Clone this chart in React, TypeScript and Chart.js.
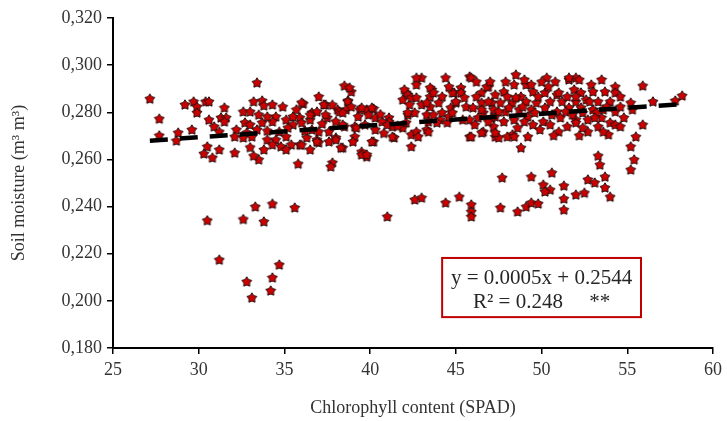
import React, { useEffect, useRef } from "react";
import { Chart, registerables } from "chart.js";

Chart.register(...registerables);

// [SPAD, soil moisture] pairs, grouped by region
const pointsLeft: [number, number][] = [
  [27.15, 0.2856], [27.7, 0.2771], [27.7, 0.270], [28.8, 0.2712], [28.7, 0.2678], [29.6, 0.2725],
  [29.2, 0.2831], [29.7, 0.2844], [29.9, 0.2822], [29.9, 0.2797], [30.4, 0.2844], [30.6, 0.2844],
  [30.6, 0.2767], [30.9, 0.2738], [31.2, 0.2716], [31.5, 0.2818], [31.3, 0.2776], [31.6, 0.2776],
  [31.5, 0.2759], [30.5, 0.2653], [30.3, 0.2623], [30.8, 0.2606], [31.2, 0.264],
];

const pointsLowLeft: [number, number][] = [
  [30.5, 0.234], [32.6, 0.2345], [33.3, 0.2398], [34.3, 0.241], [35.6, 0.2394], [33.8, 0.2335],
  [31.2, 0.2173], [34.7, 0.2152], [34.3, 0.2097], [32.8, 0.208], [34.2, 0.2042], [33.1, 0.2012],
];

const pointsMidLeft: [number, number][] = [
  [32.1, 0.2627], [33.5, 0.2598], [33.2, 0.2614], [33.4, 0.2924], [35.8, 0.258], [38.5, 0.2911],
  [37.0, 0.2865], [37.4, 0.2831], [38.1, 0.281], [38.7, 0.2848], [33.2, 0.2844], [33.7, 0.2848],
  [33.8, 0.2827], [34.3, 0.2831], [34.9, 0.2822], [32.6, 0.2801], [33.0, 0.2801], [33.5, 0.2788],
  [34.5, 0.278], [35.7, 0.281], [36.1, 0.2835], [35.9, 0.2776], [36.6, 0.2797], [36.9, 0.2801],
  [37.5, 0.2776], [38.2, 0.2801], [32.7, 0.2755], [33.0, 0.2746], [33.7, 0.2755], [34.3, 0.2759],
  [35.1, 0.2767], [35.5, 0.2746], [36.0, 0.2755], [36.5, 0.2767], [32.2, 0.2725], [32.8, 0.2712],
  [33.4, 0.2725], [34.7, 0.2716], [35.2, 0.2733], [37.0, 0.2716], [37.6, 0.2716], [38.5, 0.2738],
  [32.1, 0.2695], [32.6, 0.2691], [33.1, 0.2695], [34.0, 0.2682], [34.5, 0.2682], [35.1, 0.2695],
  [36.3, 0.2691], [36.9, 0.2682], [38.0, 0.2691], [34.3, 0.2661], [34.8, 0.2653], [35.4, 0.2661],
  [35.9, 0.2661], [37.0, 0.267], [37.6, 0.2674], [38.4, 0.2648], [33.8, 0.264], [35.1, 0.264],
  [36.5, 0.264], [37.8, 0.2585], [38.9, 0.2886], [36.0, 0.284], [37.3, 0.2831], [38.7, 0.2844],
  [38.6, 0.281], [36.5, 0.2788], [37.4, 0.2788], [38.4, 0.2797], [38.4, 0.2746], [38.0, 0.2682],
  [38.3, 0.2648], [37.7, 0.2568], [36.6, 0.2725], [36.9, 0.2674], [34.0, 0.278], [36.2, 0.272],
  [35.5, 0.278], [37.2, 0.275], [33.0, 0.265], [34.0, 0.272], [36.0, 0.266], [38.0, 0.276],
  [37.8, 0.283],
];

const pointsMid: [number, number][] = [
  [39.4, 0.281], [39.8, 0.281], [40.2, 0.2814], [39.3, 0.278], [40.3, 0.2776], [41.1, 0.2776],
  [42.1, 0.2882], [41.9, 0.2852], [42.7, 0.2916], [43.0, 0.2945], [42.7, 0.2945], [43.6, 0.2895],
  [43.5, 0.2865], [44.4, 0.2945], [42.3, 0.2831], [43.0, 0.2831], [42.2, 0.2788], [42.6, 0.2797],
  [43.5, 0.2822], [43.3, 0.2788], [43.7, 0.2788], [43.4, 0.2759], [42.4, 0.2704], [42.4, 0.2653],
  [43.3, 0.2725], [41.4, 0.2691], [41.1, 0.2759], [40.3, 0.2725], [40.2, 0.2674], [39.5, 0.2631],
  [39.8, 0.261], [39.1, 0.2738], [44.9, 0.2882], [44.1, 0.2767], [44.5, 0.2755], [42.0, 0.2895],
  [42.2, 0.2873], [42.4, 0.2861], [43.5, 0.2903], [43.7, 0.2882], [42.7, 0.2861], [43.3, 0.2839],
  [44.8, 0.2882], [38.8, 0.2903], [38.9, 0.2822], [39.5, 0.2818], [40.1, 0.2818], [39.9, 0.2788],
  [39.2, 0.2733], [39.1, 0.2695], [39.0, 0.2674], [39.7, 0.2746], [40.7, 0.2759], [41.3, 0.2738],
  [41.0, 0.2746], [41.3, 0.2695], [40.1, 0.2674], [42.2, 0.2797], [41.9, 0.2733], [42.1, 0.2755],
  [42.7, 0.2716], [42.8, 0.2695], [43.4, 0.2716], [43.9, 0.2755], [44.7, 0.2818], [44.6, 0.278],
  [39.5, 0.2619], [39.8, 0.2619], [40.6, 0.279], [41.6, 0.274], [40.8, 0.271],
];

const pointsMidRight: [number, number][] = [
  [45.3, 0.2903], [45.0, 0.2839], [45.6, 0.2822], [44.8, 0.2797], [45.8, 0.2767], [46.5, 0.2882],
  [46.9, 0.2907], [46.5, 0.2839], [47.1, 0.2839], [46.6, 0.2797], [47.3, 0.278], [45.8, 0.2695],
  [46.6, 0.2716], [47.3, 0.2695], [45.8, 0.295], [45.0, 0.2844], [45.3, 0.2882], [48.5, 0.2958],
  [47.9, 0.2928], [46.8, 0.2907], [48.4, 0.2916], [49.1, 0.2916], [47.3, 0.2873], [47.8, 0.2886],
  [48.8, 0.2865], [49.5, 0.2886], [46.9, 0.2844], [47.6, 0.2839], [48.3, 0.2839], [49.1, 0.2844],
  [49.7, 0.2839], [46.5, 0.281], [47.2, 0.281], [47.9, 0.2801], [48.7, 0.281], [49.4, 0.281],
  [47.1, 0.2776], [47.8, 0.2759], [48.4, 0.2767], [49.2, 0.278], [47.2, 0.2738], [47.5, 0.2691],
  [48.3, 0.2704], [48.8, 0.2648], [49.9, 0.2725], [45.9, 0.2945], [49.4, 0.2916], [46.2, 0.2865],
  [48.5, 0.2861], [45.9, 0.2695], [46.5, 0.2712], [47.3, 0.2712], [48.0, 0.2695], [48.4, 0.2695],
  [44.2, 0.2865], [44.0, 0.2839], [45.5, 0.2861], [46.0, 0.2818], [46.3, 0.2776], [46.9, 0.2759],
  [47.5, 0.2801], [48.1, 0.2818], [48.0, 0.2865], [48.9, 0.2822], [49.0, 0.2759], [49.6, 0.2797],
  [49.8, 0.2865], [47.0, 0.2928], [46.2, 0.2928], [44.6, 0.2907], [44.2, 0.2797], [45.4, 0.2767],
  [46.1, 0.2746], [48.6, 0.2733], [49.5, 0.2746], [49.0, 0.2937], [49.2, 0.2695],
];

const pointsRight: [number, number][] = [
  [50.3, 0.2945], [50.8, 0.2928], [51.6, 0.2937], [52.0, 0.2945], [52.9, 0.2916], [53.5, 0.2937],
  [54.3, 0.2907], [55.9, 0.2911], [50.2, 0.2882], [50.9, 0.2873], [51.9, 0.2895], [52.3, 0.2882],
  [53.0, 0.2886], [53.7, 0.2886], [54.3, 0.2882], [50.5, 0.2844], [51.2, 0.2844], [52.0, 0.2844],
  [52.6, 0.2852], [53.3, 0.2844], [54.0, 0.2844], [50.2, 0.2818], [50.9, 0.2801], [51.6, 0.2818],
  [52.3, 0.2818], [53.0, 0.281], [53.6, 0.281], [54.3, 0.2801], [55.2, 0.2839], [55.3, 0.281],
  [56.5, 0.2844], [57.8, 0.2848], [58.2, 0.2869], [50.1, 0.2759], [51.1, 0.2776], [52.0, 0.2767],
  [52.7, 0.2767], [53.5, 0.2776], [54.0, 0.2755], [54.8, 0.2776], [51.0, 0.2716], [52.0, 0.2755],
  [52.7, 0.2716], [53.3, 0.2738], [53.9, 0.2704], [54.3, 0.2746], [55.9, 0.2746], [55.5, 0.2695],
  [55.2, 0.2653], [55.4, 0.2598], [55.2, 0.2555], [51.0, 0.2882], [52.0, 0.2865], [51.6, 0.2945],
  [52.2, 0.2937], [50.4, 0.2907], [50.6, 0.2788], [51.4, 0.2801], [51.5, 0.2865], [51.8, 0.2788],
  [52.4, 0.2797], [52.8, 0.2844], [53.2, 0.2797], [53.8, 0.2822], [54.6, 0.2822], [54.6, 0.2865],
  [50.0, 0.2928], [50.5, 0.2746], [51.5, 0.2738], [52.4, 0.2733], [53.1, 0.2776], [54.6, 0.2738],
  [50.7, 0.270], [52.2, 0.270], [53.6, 0.2716],
];

const pointsLowRight: [number, number][] = [
  [42.6, 0.2428], [43.0, 0.2436], [44.4, 0.2415], [45.2, 0.244], [45.9, 0.2407], [45.9, 0.2377],
  [45.9, 0.2356], [41.0, 0.2356], [47.7, 0.2521], [49.4, 0.2525], [50.6, 0.2542], [50.1, 0.2491],
  [50.5, 0.247], [51.3, 0.2487], [50.2, 0.2462], [51.3, 0.2432], [51.3, 0.2385], [52.0, 0.2449],
  [52.5, 0.2457], [52.7, 0.2513], [53.1, 0.25], [53.3, 0.2614], [53.4, 0.2576], [53.7, 0.2525],
  [53.7, 0.2479], [54.0, 0.244], [47.6, 0.2394], [48.6, 0.2377], [49.1, 0.2398], [49.4, 0.2415],
  [49.8, 0.2411],
];

const slope = 0.0005;
const intercept = 0.2544;
const equationText = "y = 0.0005x + 0.2544";
const r2Text = "R\u00B2 = 0.248     **";

const xTitle = "Chlorophyll content (SPAD)";
const yTitle = "Soil moisture (m\u00B3 m\u00B3)";

function makeStar(): HTMLCanvasElement {
  const c = document.createElement("canvas");
  const s = 12;
  c.width = s;
  c.height = s;
  const ctx = c.getContext("2d")!;
  const cx = s / 2, cy = s / 2;
  const ro = 5.2, ri = 3.0;
  ctx.beginPath();
  for (let i = 0; i < 10; i++) {
    const r = i % 2 === 0 ? ro : ri;
    const a = -Math.PI / 2 + (i * Math.PI) / 5;
    const px = cx + r * Math.cos(a);
    const py = cy + r * Math.sin(a);
    if (i === 0) ctx.moveTo(px, py);
    else ctx.lineTo(px, py);
  }
  ctx.closePath();
  ctx.fillStyle = "#CC0000";
  ctx.fill();
  ctx.lineWidth = 1;
  ctx.strokeStyle = "#2a1010";
  ctx.stroke();
  return c;
}

const boxPlugin = {
  id: "eqBox",
  afterDatasetsDraw(chart: any) {
    const { ctx, scales } = chart;
    const xs = scales.x, ys = scales.y;
    const left = xs.getPixelForValue(44.2);
    const right = xs.getPixelForValue(55.8);
    const top = ys.getPixelForValue(0.2182);
    const bottom = ys.getPixelForValue(0.1931);
    ctx.save();
    ctx.fillStyle = "#ffffff";
    ctx.fillRect(left, top, right - left, bottom - top);
    ctx.strokeStyle = "#C00000";
    ctx.lineWidth = 2;
    ctx.strokeRect(left, top, right - left, bottom - top);
    ctx.fillStyle = "#262626";
    ctx.font = "21px 'Liberation Serif'";
    ctx.textAlign = "center";
    ctx.textBaseline = "middle";
    const cx = (left + right) / 2;
    const h = bottom - top;
    ctx.fillText(equationText, cx, top + h * 0.35);
    ctx.fillText(r2Text, cx, top + h * 0.76);
    ctx.restore();
  },
};

export default function App() {
  const ref = useRef<HTMLCanvasElement>(null);
  useEffect(() => {
    if (!ref.current) return;
    const all = [
      ...pointsLeft, ...pointsLowLeft, ...pointsMidLeft, ...pointsMid,
      ...pointsMidRight, ...pointsRight, ...pointsLowRight,
    ];
    const data = all.map(([x, y]) => ({ x, y }));
    const xsVals = all.map((p) => p[0]);
    const minX = Math.min(...xsVals);
    const maxX = Math.max(...xsVals);
    const trend = [
      { x: minX, y: slope * minX + intercept },
      { x: maxX, y: slope * maxX + intercept },
    ];
    const star = makeStar();
    const tickFont = { family: "'Liberation Serif'", size: 18 };
    const titleFont = { family: "'Liberation Serif'", size: 18 };
    const textColor = "#333333";
    const chart = new Chart(ref.current, {
      type: "scatter",
      data: {
        datasets: [
          {
            label: "trend",
            data: trend,
            showLine: true,
            borderColor: "#000000",
            borderWidth: 4.5,
            borderDash: [18, 12],
            pointRadius: 0,
            order: 0,
          } as any,
          {
            label: "obs",
            data,
            pointStyle: star as any,
            pointRadius: 6,
            order: 1,
          },
        ],
      },
      options: {
        animation: false,
        responsive: false,
        layout: { padding: { top: 18, right: 12, left: 0, bottom: 0 } },
        plugins: { legend: { display: false }, tooltip: { enabled: false } },
        scales: {
          x: {
            type: "linear",
            min: 25,
            max: 60,
            ticks: { stepSize: 5, color: textColor, font: tickFont, padding: 5 },
            grid: { drawOnChartArea: false, drawTicks: true, tickLength: 6, color: "#000", lineWidth: 1.5 },
            border: { color: "#000", width: 2 },
            title: { display: true, text: xTitle, color: textColor, font: titleFont, padding: { top: 0, bottom: 2 } },
            afterFit: (s: any) => { s.height = 73; },
          },
          y: {
            type: "linear",
            min: 0.18,
            max: 0.32,
            ticks: {
              stepSize: 0.02,
              color: textColor,
              font: tickFont,
              padding: 5,
              callback: (v: any) => Number(v).toFixed(3).replace(".", ","),
            },
            grid: { drawOnChartArea: false, drawTicks: true, tickLength: 6, color: "#000", lineWidth: 1.5 },
            border: { color: "#000", width: 2 },
            title: { display: true, text: yTitle, color: textColor, font: titleFont, padding: { top: 8, bottom: 0 } },
            afterFit: (s: any) => { s.width = 113; },
          },
        },
      },
      plugins: [boxPlugin],
    });
    return () => chart.destroy();
  }, []);
  return (
    <div style={{ position: "fixed", left: 0, top: 0, width: 727, height: 421, background: "#fff" }}>
      <canvas ref={ref} width={727} height={421} style={{ display: "block" }} />
    </div>
  );
}
